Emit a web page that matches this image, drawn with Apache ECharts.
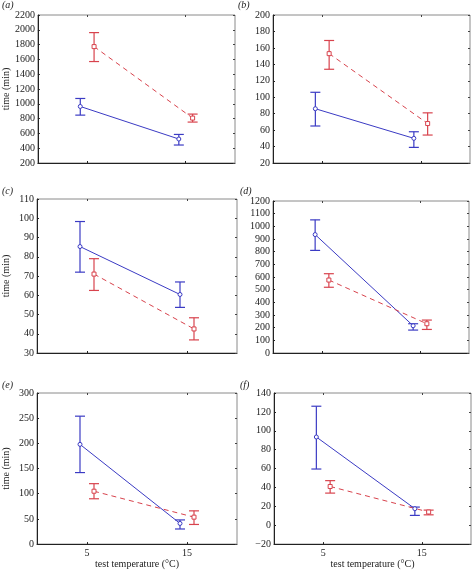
<!DOCTYPE html>
<html><head><meta charset="utf-8">
<script src="https://cdn.jsdelivr.net/npm/echarts@6/dist/echarts.min.js"></script>
<style>html,body{margin:0;padding:0;background:#fff}#c{width:474px;height:570px}</style>
</head><body><div id="c"></div>
<script>
// x positions (test temperature, offset so groups don't overlap)
var xBlue = [4.3, 14.3];
var xRed = [5.7, 15.7];
var xTicks = [5, 15];
var panelLabels = ['(a)', '(b)', '(c)', '(d)', '(e)', '(f)'];
var yMin = [200, 20, 30, 0, 0, -20];
var yMax = [2200, 200, 110, 1200, 300, 140];
var yStep = [200, 20, 10, 100, 50, 20];

// panel (a)
var aBlue = [964, 524], aBlueHi = [1072, 586], aBlueLo = [847, 443];
var aRed = [1773, 807], aRedHi = [1962, 861], aRedLo = [1571, 753];
// panel (b)
var bBlue = [86, 50], bBlueHi = [106, 58], bBlueLo = [65, 39];
var bRed = [153, 68], bRedHi = [169, 81], bRedLo = [134, 54];
// panel (c)
var cBlue = [85.3, 60.4], cBlueHi = [98.3, 66.9], cBlueLo = [72, 53.7];
var cRed = [71, 42.5], cRedHi = [79, 48.3], cRedLo = [62.5, 36.8];
// panel (d)
var dBlue = [935, 215], dBlueHi = [1051, 231], dBlueLo = [810, 181];
var dRed = [576, 231], dRedHi = [626, 260], dRedLo = [519, 186];
// panel (e)
var eBlue = [198, 41], eBlueHi = [254, 48], eBlueLo = [142, 30];
var eRed = [105, 53.5], eRedHi = [120, 66], eRedLo = [90, 39];
// panel (f)
var fBlue = [93.4, 17.5], fBlueHi = [126, 19.2], fBlueLo = [59.5, 10.4];
var fRed = [41, 14], fRedHi = [47.2, 16], fRedLo = [34, 11];

var panels = [
  [aBlue, aBlueHi, aBlueLo, aRed, aRedHi, aRedLo],
  [bBlue, bBlueHi, bBlueLo, bRed, bRedHi, bRedLo],
  [cBlue, cBlueHi, cBlueLo, cRed, cRedHi, cRedLo],
  [dBlue, dBlueHi, dBlueLo, dRed, dRedHi, dRedLo],
  [eBlue, eBlueHi, eBlueLo, eRed, eRedHi, eRedLo],
  [fBlue, fBlueHi, fBlueLo, fRed, fRedHi, fRedLo]
];

var BLUE = '#3b3bc4', RED = '#d8434d';
var FONT = '"Liberation Serif", "Times New Roman", serif';
var gridBoxes = [
  {left: 37, top: 15, width: 198, height: 148},
  {left: 273, top: 15, width: 197, height: 148},
  {left: 37, top: 199, width: 200, height: 154},
  {left: 273, top: 201, width: 196, height: 152},
  {left: 37, top: 393, width: 200, height: 152},
  {left: 274, top: 393, width: 197, height: 153}
];
var labelPos = [[2, 0], [238, 0], [2, 186], [240, 186], [2, 380], [240, 380]];

var grids = [], xAxes = [], yAxes = [], series = [], graphics = [];

function errItem(color) {
  return function (params, api) {
    var x = api.value(0), lo = api.value(1), hi = api.value(2);
    var pLo = api.coord([x, lo]), pHi = api.coord([x, hi]);
    var hw = 5;
    var st = {stroke: color, lineWidth: 1.2};
    return {type: 'group', children: [
      {type: 'line', shape: {x1: pLo[0], y1: pLo[1], x2: pHi[0], y2: pHi[1]}, style: st},
      {type: 'line', shape: {x1: pLo[0] - hw, y1: pLo[1], x2: pLo[0] + hw, y2: pLo[1]}, style: st},
      {type: 'line', shape: {x1: pHi[0] - hw, y1: pHi[1], x2: pHi[0] + hw, y2: pHi[1]}, style: st}
    ]};
  };
}

for (var i = 0; i < 6; i++) {
  var g = gridBoxes[i];
  grids.push({left: g.left, top: g.top, width: g.width, height: g.height, show: true, borderColor: '#8a8a8a', borderWidth: 1, backgroundColor: 'transparent'});
  var bottomRow = i >= 4;
  var leftCol = i % 2 === 0;
  // bottom x axis
  xAxes.push({
    gridIndex: i, type: 'value', min: 0, max: 20, position: 'bottom',
    axisLine: {show: true, onZero: false, lineStyle: {color: '#222', width: 1}},
    axisTick: {show: true, inside: true, length: 2, customValues: xTicks, lineStyle: {color: '#222'}},
    axisLabel: {show: bottomRow, customValues: xTicks, margin: 4, fontFamily: FONT, fontSize: 10, color: '#222'},
    splitLine: {show: false},
    name: bottomRow ? 'test temperature (\u00B0C)' : '', nameLocation: 'middle', nameGap: 14,
    nameTextStyle: {fontFamily: FONT, fontSize: 10, color: '#222'}
  });
  // top x axis (ticks only)
  xAxes.push({
    gridIndex: i, type: 'value', min: 0, max: 20, position: 'top',
    axisLine: {show: false, onZero: false},
    axisTick: {show: true, inside: true, length: 2, customValues: xTicks, lineStyle: {color: '#444'}},
    axisLabel: {show: false}, splitLine: {show: false}
  });
  // left y axis
  yAxes.push({
    gridIndex: i, type: 'value', min: yMin[i], max: yMax[i], interval: yStep[i], position: 'left',
    axisLine: {show: true, onZero: false, lineStyle: {color: '#222', width: 1}},
    axisTick: {show: true, inside: true, length: 2, lineStyle: {color: '#222'}},
    axisLabel: {margin: 3, fontFamily: FONT, fontSize: 10, color: '#222',
      formatter: function (v) { return v < 0 ? '\u2212' + Math.abs(v) : String(v); }},
    splitLine: {show: false},
    name: leftCol ? 'time (min)' : '', nameLocation: 'middle', nameGap: 26,
    nameTextStyle: {fontFamily: FONT, fontSize: 10, color: '#222'}
  });
  // right y axis (ticks only)
  yAxes.push({
    gridIndex: i, type: 'value', min: yMin[i], max: yMax[i], interval: yStep[i], position: 'right',
    axisLine: {show: false, onZero: false},
    axisTick: {show: true, inside: true, length: 2, lineStyle: {color: '#444'}},
    axisLabel: {show: false}, splitLine: {show: false}
  });

  var p = panels[i];
  var xi = i * 2, yi = i * 2;
  var blueLine = [], redLine = [], blueErr = [], redErr = [];
  for (var k = 0; k < 2; k++) {
    blueLine.push([xBlue[k], p[0][k]]);
    redLine.push([xRed[k], p[3][k]]);
    blueErr.push([xBlue[k], p[2][k], p[1][k]]);
    redErr.push([xRed[k], p[5][k], p[4][k]]);
  }
  series.push({type: 'custom', xAxisIndex: xi, yAxisIndex: yi, renderItem: errItem(BLUE), data: blueErr, encode: {x: 0, y: [1, 2]}, silent: true, z: 2});
  series.push({type: 'custom', xAxisIndex: xi, yAxisIndex: yi, renderItem: errItem(RED), data: redErr, encode: {x: 0, y: [1, 2]}, silent: true, z: 2});
  series.push({type: 'line', xAxisIndex: xi, yAxisIndex: yi, data: blueLine, symbol: 'circle', symbolSize: 4, showAllSymbol: true,
    lineStyle: {color: BLUE, width: 1}, itemStyle: {color: '#fff', borderColor: BLUE, borderWidth: 1}, animation: false, z: 3});
  series.push({type: 'line', xAxisIndex: xi, yAxisIndex: yi, data: redLine, symbol: 'rect', symbolSize: 4, showAllSymbol: true,
    lineStyle: {color: RED, width: 1, type: [5, 4]}, itemStyle: {color: '#fff', borderColor: RED, borderWidth: 1}, animation: false, z: 3});

  graphics.push({type: 'text', left: labelPos[i][0], top: labelPos[i][1],
    style: {text: panelLabels[i], font: 'italic 10px "Liberation Serif"', fill: '#222'}});
}

var chart = echarts.init(document.getElementById('c'), null, {renderer: 'canvas'});
chart.setOption({
  animation: false,
  backgroundColor: '#fff',
  grid: grids, xAxis: xAxes, yAxis: yAxes, series: series, graphic: graphics
});
</script>
</body></html>
